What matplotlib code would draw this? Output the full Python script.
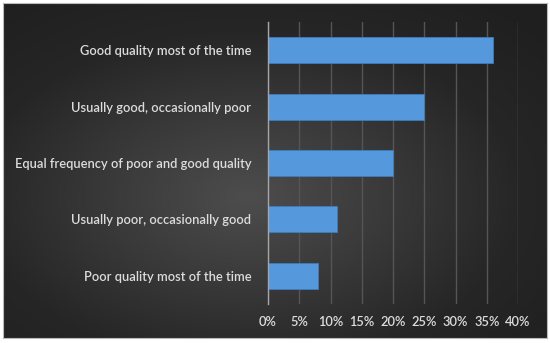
import numpy as np
import matplotlib
matplotlib.use('Agg')
import matplotlib.pyplot as plt
from matplotlib.ticker import FuncFormatter
from matplotlib.colors import LinearSegmentedColormap

categories = ['Poor quality most of the time',
              'Usually poor, occasionally good',
              'Equal frequency of poor and good quality',
              'Usually good, occasionally poor',
              'Good quality most of the time']
values = [8, 11, 20, 25, 36]
xticks = [0, 5, 10, 15, 20, 25, 30, 35, 40]

plt.rcParams['font.family'] = ['Lato', 'DejaVu Sans']
txt = '#dcdcdc'

fig = plt.figure(figsize=(5.5, 3.43), dpi=100, facecolor='white')

# dark radial background
bg = fig.add_axes([3/550, 5/343, 544/550, 335/343])
yy, xx = np.mgrid[0:1:200j, 0:1:300j]
r = np.sqrt(((xx - 0.45) / 1.0) ** 2 + ((yy - 0.42) / 1.0) ** 2)
cm = LinearSegmentedColormap.from_list('bg', ['#4d4d4d', '#3a3a3a', '#262626', '#1f1f1f'])
bg.imshow(r, cmap=cm, vmin=0, vmax=0.75, aspect='auto',
          extent=[0, 1, 0, 1], origin='lower')
bg.set_xlim(0, 1)
bg.set_ylim(0, 1)
for s in bg.spines.values():
    s.set_edgecolor('#bbbbbb')
    s.set_linewidth(0.8)
bg.set_xticks([])
bg.set_yticks([])

ax = fig.add_axes([268/550, 39/343, 250/550, 282/343])
ax.patch.set_alpha(0)
y = np.arange(len(categories))
ax.barh(y, values, height=0.46, color='#5698dc', edgecolor='#3d7cc0',
        linewidth=0.6, zorder=3)
ax.set_xlim(0, 40)
ax.set_ylim(-0.5, len(categories) - 0.5)
ax.set_xticks(xticks)
ax.xaxis.set_major_formatter(FuncFormatter(lambda v, p: f'{v:.0f}%'))
ax.set_yticks(y)
ax.set_yticklabels(categories)
ax.tick_params(axis='y', length=0, pad=12, labelsize=9.3, labelcolor=txt)
ax.tick_params(axis='x', length=0, pad=9, labelsize=9.3, labelcolor=txt)
for lab in ax.get_xticklabels() + ax.get_yticklabels():
    lab.set_fontweight('semibold')
ax.grid(axis='x', color='#555555', linewidth=1, zorder=0)
for k in ['top', 'right', 'bottom']:
    ax.spines[k].set_visible(False)
ax.spines['left'].set_color('#a6a6a6')
ax.spines['left'].set_linewidth(1)
ax.spines['left'].set_zorder(4)

fig.savefig('out.png', dpi=100, facecolor='white')
